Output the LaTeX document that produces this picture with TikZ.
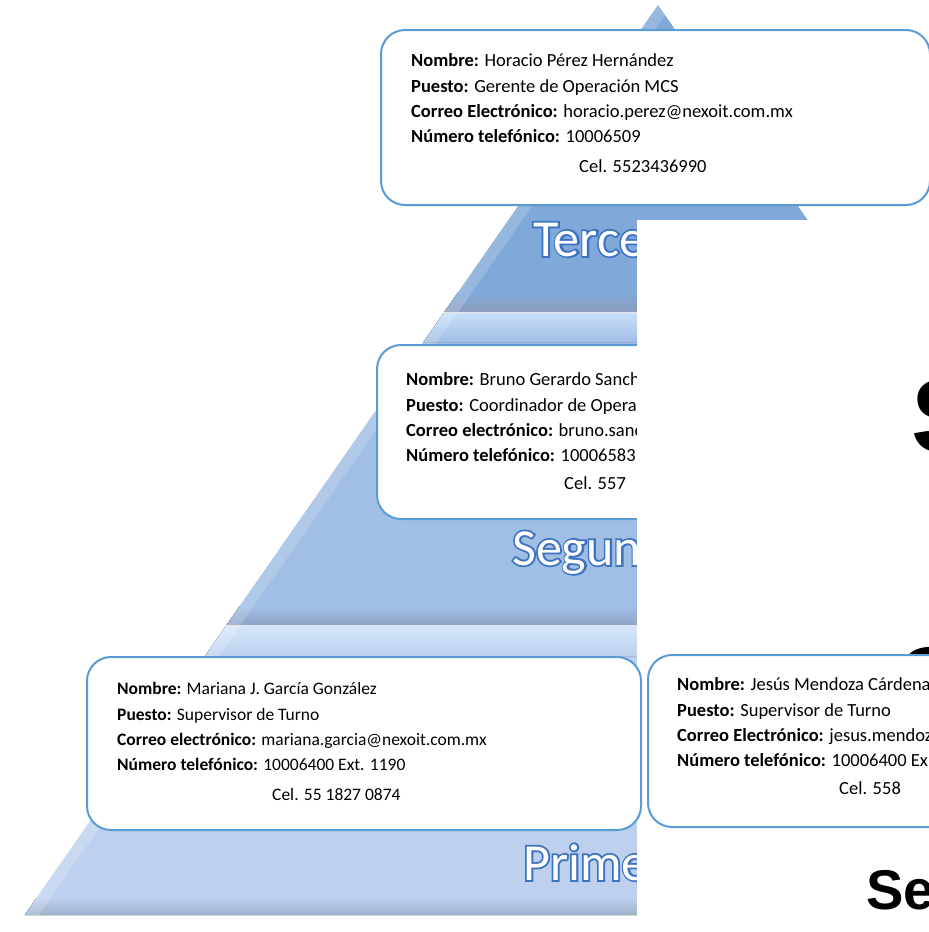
\documentclass[tikz,border=0pt]{standalone}
\usepackage{fontspec}
\setmainfont{Carlito}
\newfontfamily\bigsans{Liberation Sans}
\newfontfamily\glowfont{Carlito}[FakeBold=7]
\usetikzlibrary{positioning}

\definecolor{cardline}{HTML}{5B9BD5}
\definecolor{tierA}{HTML}{80A9D9}
\definecolor{tierAlow}{HTML}{8A9DBD}
\definecolor{tierB}{HTML}{A1BEE5}
\definecolor{tierBtop}{HTML}{C8DEF9}
\definecolor{tierBlow}{HTML}{8FA4C6}
\definecolor{tierC}{HTML}{BDD1EE}
\definecolor{tierCtop}{HTML}{D6E7FB}
\definecolor{tierClow}{HTML}{9FB0CA}
\definecolor{glow}{HTML}{3D73C0}

% one horizontal slice of the pyramid, between heights #1 and #2
\newcommand{\pyrslab}[3]{%
  \fill[#3] ({658-0.696*(#1-5)},#1) -- ({658+0.696*(#1-5)},#1)
    -- ({658+0.696*(#2-5)},#2) -- ({658-0.696*(#2-5)},#2) -- cycle;}
% lighter bevel along the left edge
\newcommand{\pyrbevel}[2]{%
  \fill[white, opacity=0.18] ({658-0.696*(#1-5)},#1) -- ({658-0.696*(#2-5)},#2)
    -- ({672-0.696*(#2-5)},#2) -- ({672-0.696*(#1-5)},#1) -- cycle;}

\begin{document}
\begin{tikzpicture}[
  x=1pt, y=-1pt,
  card/.style={draw=cardline, line width=2pt, fill=white, rounded corners=24pt},
  info/.style={font=\fontsize{18.5}{25.3}\selectfont, align=left, inner sep=0pt, anchor=base west},
  lvl/.style={font=\fontsize{52}{60}\selectfont, text=white, inner sep=0pt, anchor=base west},
  lvlglow/.style={font=\glowfont\fontsize{52}{60}\selectfont, text=glow, inner sep=0pt, anchor=base west},
  bigltr/.style={font=\bigsans\bfseries\fontsize{105}{110}\selectfont, inner sep=0pt, anchor=base west},
  seam/.style={draw=white!80!gray, line width=1.5pt}
]
\useasboundingbox (0,0) rectangle (929,932);
\clip (0,0) rectangle (929,932);

% pyramid: third level
\pyrslab{5}{312}{tierA}
\pyrslab{292}{312}{top color=tierA, bottom color=tierAlow}
\pyrbevel{5}{312}
% second level
\pyrslab{313}{625}{tierB}
\pyrslab{313}{342}{top color=tierBtop, bottom color=tierB}
\pyrslab{606}{625}{top color=tierB, bottom color=tierBlow}
\pyrbevel{313}{625}
% first level
\pyrslab{626}{915}{tierC}
\pyrslab{626}{656}{top color=tierCtop, bottom color=tierC}
\pyrslab{898}{915}{top color=tierC, bottom color=tierClow}
\pyrbevel{626}{915}
\draw[seam] ({658-0.696*307.5},312.5) -- ({658+0.696*307.5},312.5);
\draw[seam] ({658-0.696*620.5},625.5) -- ({658+0.696*620.5},625.5);

% level names (blue halo under white letters)
\node[lvlglow] (glowTer) at (533,256) {Terce};
\node[lvl] (lvlTer) at (glowTer.base west) {Terce};
\node[lvlglow] (glowSeg) at (512,565) {Segun};
\node[lvl] (lvlSeg) at (glowSeg.base west) {Segun};
\node[lvlglow] (glowPri) at (523,880) {Prime};
\node[lvl] (lvlPri) at (glowPri.base west) {Prime};

% second level contact
\draw[card] (377,345) rectangle (720,519);
\node[info] (infoSeg) at (406,489) {\textbf{Nombre:} Bruno Gerardo Sanch\\
  \textbf{Puesto:} Coordinador de Opera\\
  \textbf{Correo electrónico:} bruno.sanc\\
  \textbf{Número telefónico:} 10006583\\[2pt]
  \hspace*{158pt}Cel. 557};

% white sheet over the right part
\fill[white] (637,220) rectangle (940,940);
\node[bigltr] (capS) at (911,452) {S};
\node[bigltr] (capShid) at (898,720) {S};
\node[bigltr, font=\bigsans\bfseries\fontsize{56}{60}\selectfont] (capSe) at (866,909) {Se};

% third level contact
\draw[card] (381,30) rectangle (930,205);
\node[info] (infoTer) at (411,172) {\textbf{Nombre:} Horacio Pérez Hernández\\
  \textbf{Puesto:} Gerente de Operación MCS\\
  \textbf{Correo Electrónico:} horacio.perez@nexoit.com.mx\\
  \textbf{Número telefónico:} 10006509\\[4pt]
  \hspace*{168pt}Cel. 5523436990};

% first level contacts
\draw[card] (87,657) rectangle (641,830);
\node[info, font=\fontsize{17.5}{25.3}\selectfont] (infoPriA) at (117,800) {\textbf{Nombre:} Mariana J. García González\\
  \textbf{Puesto:} Supervisor de Turno\\
  \textbf{Correo electrónico:} mariana.garcia@nexoit.com.mx\\
  \textbf{Número telefónico:} 10006400 Ext. 1190\\[4pt]
  \hspace*{155pt}Cel. 55 1827 0874};
\draw[card] (648,655) rectangle (1000,827);
\node[info] (infoPriB) at (677,794) {\textbf{Nombre:} Jesús Mendoza Cárdena\\
  \textbf{Puesto:} Supervisor de Turno\\
  \textbf{Correo Electrónico:} jesus.mendoz\\
  \textbf{Número telefónico:} 10006400 Ex\\[2pt]
  \hspace*{162pt}Cel. 558};
\end{tikzpicture}
\end{document}
